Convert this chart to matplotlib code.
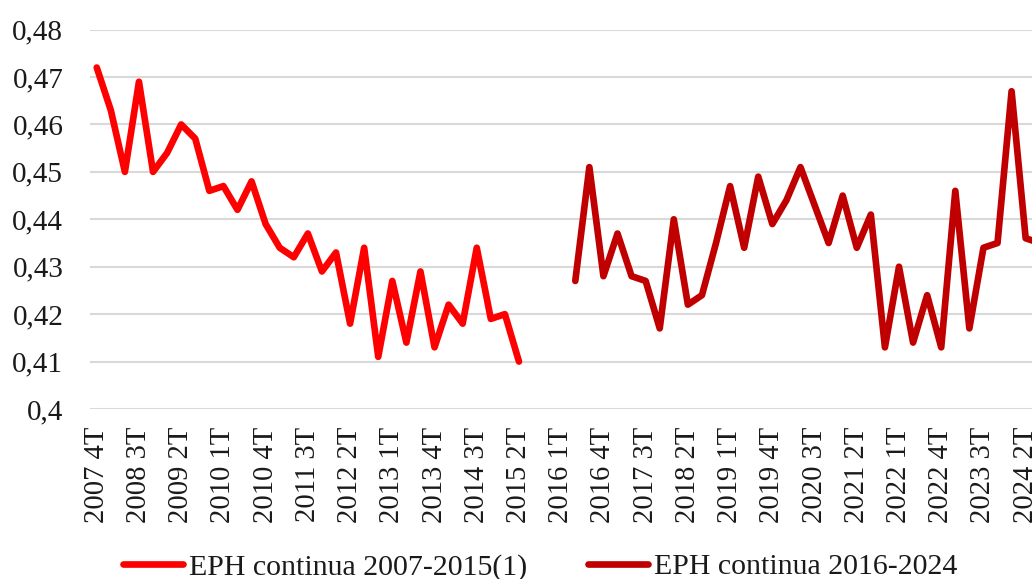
import numpy as np
import matplotlib
matplotlib.use("Agg")
import matplotlib.pyplot as plt

plt.rcParams['font.family'] = ['Liberation Serif', 'DejaVu Serif']

# quarters 2007 4T .. 2024 3T (category axis)
quarters = ["2007 4T"] + [f"{y} {q}T" for y in range(2008, 2025) for q in range(1, 5)]
quarters = quarters[:quarters.index("2024 3T") + 1]

# EPH continua 2007-2015(1): 2007 4T .. 2015 2T
eph_old = [0.472, 0.463, 0.450, 0.469, 0.450, 0.454, 0.460, 0.457,
           0.446, 0.447, 0.442, 0.448, 0.439, 0.434, 0.432, 0.437,
           0.429, 0.433, 0.418, 0.434, 0.411, 0.427, 0.414, 0.429,
           0.413, 0.422, 0.418, 0.434, 0.419, 0.420, 0.410]
old_start = "2007 4T"

# EPH continua 2016-2024: 2016 2T .. 2024 3T
eph_new = [0.427, 0.451, 0.428, 0.437, 0.428, 0.427, 0.417, 0.440,
           0.422, 0.424, 0.435, 0.447, 0.434, 0.449, 0.439, 0.444,
           0.451, 0.443, 0.435, 0.445, 0.434, 0.441, 0.413, 0.430,
           0.414, 0.424, 0.413, 0.446, 0.417, 0.434, 0.435, 0.467,
           0.436, 0.435]
new_start = "2016 2T"

yticks = [0.40, 0.41, 0.42, 0.43, 0.44, 0.45, 0.46, 0.47, 0.48]
ytick_labels = ["0,4", "0,41", "0,42", "0,43", "0,44", "0,45", "0,46", "0,47", "0,48"]

n = len(quarters)
s_old = np.full(n, np.nan)
i0 = quarters.index(old_start)
s_old[i0:i0 + len(eph_old)] = eph_old
s_new = np.full(n, np.nan)
i1 = quarters.index(new_start)
s_new[i1:i1 + len(eph_new)] = eph_new
x = np.arange(n)

W, H = 1032, 579
fig = plt.figure(figsize=(W / 100, H / 100), dpi=100)
ax = fig.add_axes([89.7 / W, 1 - 409 / H, (W - 89.7) / W, (409 - 29.6) / H])

ax.plot(x, s_old, color="#FF0000", lw=4.8, solid_joinstyle="round",
        solid_capstyle="round", label="EPH continua 2007-2015(1)")
ax.plot(x, s_new, color="#C00000", lw=4.8, solid_joinstyle="round",
        solid_capstyle="round", label="EPH continua 2016-2024")

ax.set_xlim(-0.5, 66.45)
ax.set_ylim(0.40, 0.48)
ax.set_yticks(yticks)
ax.set_yticklabels(ytick_labels)
ax.set_xticks(x[::3])
ax.set_xticklabels(quarters[::3], rotation=90)
ax.tick_params(axis="both", length=0, colors="#1a1a1a")
ax.tick_params(axis="y", pad=19, labelsize=21)
ax.tick_params(axis="x", pad=13, labelsize=20.6)
ax.grid(axis="y", color="#d9d9d9", lw=1.5)
ax.set_axisbelow(True)
for s in ax.spines.values():
    s.set_visible(False)

fig.legend(loc="center", bbox_to_anchor=(540 / W, 1 - 567 / H), ncol=2,
           frameon=False, fontsize=21.5, handlelength=2.0, handletextpad=0.2,
           columnspacing=2.05, borderaxespad=0, borderpad=0,
           labelcolor="#1a1a1a")

fig.savefig("out.png", dpi=100)
